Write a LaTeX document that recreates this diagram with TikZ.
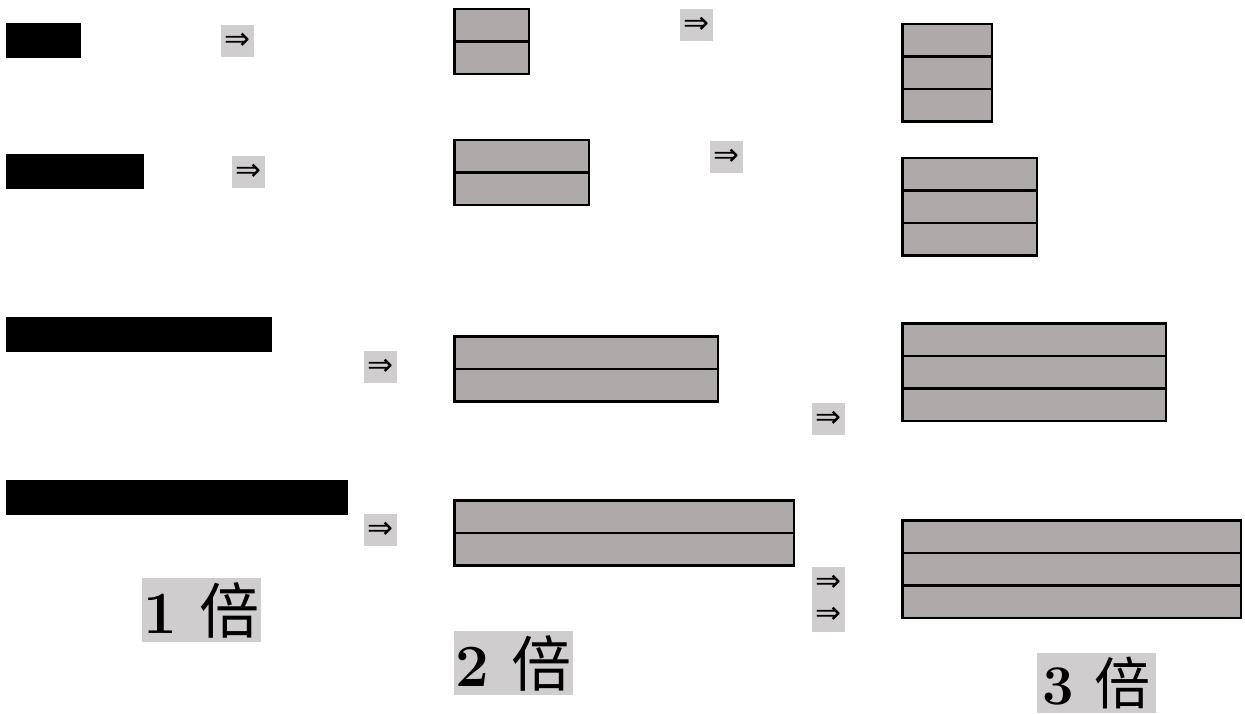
\documentclass[tikz,border=0pt]{standalone}
\usepackage{fontspec}
\newfontfamily\cjkfont{Noto Sans CJK SC}
\newfontfamily\arrowfont{DejaVu Sans}
\usepackage{xcolor}
\usepackage{tikz}
\usetikzlibrary{positioning}
\definecolor{BlockGray}{HTML}{AEAAA9}
\definecolor{TagGray}{HTML}{CFCDCE}

\begin{document}
\begin{tikzpicture}[x=1pt, y=-1pt,
    bar/.style={fill=black, anchor=north west, inner sep=0pt, outer sep=0pt, minimum height=35pt},
    cell/.style={draw, line width=2.5pt, fill=BlockGray, anchor=north west, inner sep=0pt, outer sep=0pt, minimum height=32.5pt},
    arr/.style={fill=TagGray, anchor=north west, inner sep=0pt, minimum width=33pt, minimum height=32pt, font=\arrowfont\fontsize{31}{32}\selectfont},
    tag/.style={fill=TagGray, anchor=north west, inner sep=0pt, minimum width=119pt, minimum height=64pt, font=\bfseries\fontsize{60}{60}\selectfont}]
    \useasboundingbox (0,0) rectangle (1245,714);
    % single bars
    \node[bar, minimum width=75pt] (one1) at (6,23) {};
    \node[bar, minimum width=138pt] (one2) at (6,154) {};
    \node[bar, minimum width=266pt] (one3) at (6,317) {};
    \node[bar, minimum width=342pt] (one4) at (6,480) {};
    \node[arr] (go1) at (221,25) {⇒};
    \node[arr] (go2) at (232,156) {⇒};
    \node[arr] (go3) at (364,351) {⇒};
    \node[arr] (go4) at (364,514) {⇒};
    \node[tag] (times1) at (142,578) {1 {\cjkfont\mdseries 倍}};
    % double stacks
    \node[cell, minimum width=74.5pt] (two1a) at (454.25,9.25) {};
    \node[cell, minimum width=74.5pt, below=0pt of two1a] (two1b) {};
    \node[cell, minimum width=134.5pt] (two2a) at (454.25,140.25) {};
    \node[cell, minimum width=134.5pt, below=0pt of two2a] (two2b) {};
    \node[cell, minimum width=263.5pt] (two3a) at (454.25,336.25) {};
    \node[cell, minimum width=263.5pt, below=0pt of two3a] (two3b) {};
    \node[cell, minimum width=339.5pt] (two4a) at (454.25,500.25) {};
    \node[cell, minimum width=339.5pt, below=0pt of two4a] (two4b) {};
    \node[arr] (next1) at (680,9) {⇒};
    \node[arr] (next2) at (710,141) {⇒};
    \node[arr] (next3) at (812,403) {⇒};
    \node[arr, minimum height=65pt, align=center] (next4) at (812,567) {⇒\\⇒};
    \node[tag] (times2) at (454,631) {2 {\cjkfont\mdseries 倍}};
    % triple stacks
    \node[cell, minimum width=89.5pt] (three1a) at (902.25,24.25) {};
    \node[cell, minimum width=89.5pt, below=0pt of three1a] (three1b) {};
    \node[cell, minimum width=89.5pt, below=0pt of three1b] (three1c) {};
    \node[cell, minimum width=134.5pt] (three2a) at (902.25,158.25) {};
    \node[cell, minimum width=134.5pt, below=0pt of three2a] (three2b) {};
    \node[cell, minimum width=134.5pt, below=0pt of three2b] (three2c) {};
    \node[cell, minimum width=263.5pt] (three3a) at (902.25,323.25) {};
    \node[cell, minimum width=263.5pt, below=0pt of three3a] (three3b) {};
    \node[cell, minimum width=263.5pt, below=0pt of three3b] (three3c) {};
    \node[cell, minimum width=338.5pt] (three4a) at (902.25,520.25) {};
    \node[cell, minimum width=338.5pt, below=0pt of three4a] (three4b) {};
    \node[cell, minimum width=338.5pt, below=0pt of three4b] (three4c) {};
    \node[tag, minimum height=60pt, font=\bfseries\fontsize{56}{56}\selectfont] (times3) at (1037,653) {3 {\cjkfont\mdseries 倍}};
  \end{tikzpicture}
\end{document}
